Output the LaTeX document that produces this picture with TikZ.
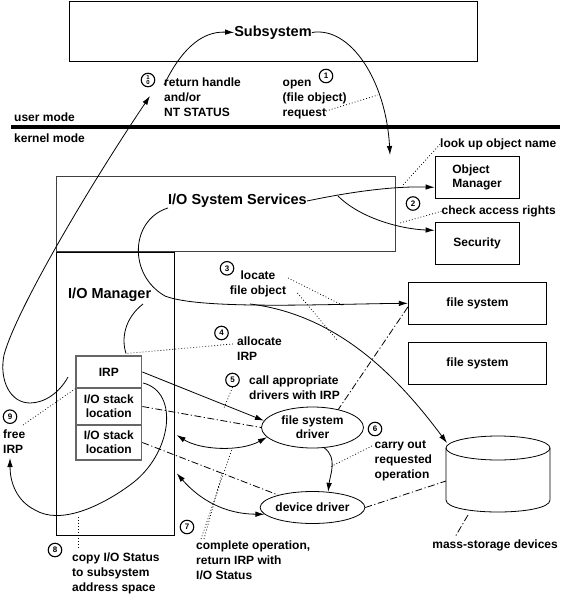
\documentclass[tikz,border=0pt]{standalone}
\usepackage{fontspec}
\setmainfont{Liberation Sans}
\usepackage{tikz}
\usetikzlibrary{arrows.meta,shapes.geometric,positioning,calc}

\begin{document}
\begin{tikzpicture}[x=1pt,y=-1pt,
	txt/.style={font=\fontsize{12}{15}\selectfont\bfseries,inner sep=0pt,align=left},
	bigtxt/.style={font=\fontsize{14.5}{17}\selectfont\bfseries,inner sep=0pt},
	numc/.style={circle,draw,line width=1.1pt,minimum size=13.5pt,inner sep=0pt,align=center,font=\fontsize{8}{8}\selectfont\bfseries},
	rbox/.style={draw,line width=0.8pt,inner sep=0pt,font=\fontsize{12}{14.5}\selectfont\bfseries},
	stackcell/.style={draw=black!60,line width=1.4pt,minimum width=65.7pt,inner sep=0pt,align=center,font=\fontsize{12}{14}\selectfont\bfseries},
	drv/.style={ellipse,draw,line width=0.8pt,inner sep=0pt,minimum width=102pt,align=center,font=\fontsize{12}{14.3}\selectfont\bfseries},
	arr/.style={-{Latex[length=9pt,width=5.5pt]},line width=0.8pt},
	biarr/.style={{Latex[length=9pt,width=5.5pt]}-{Latex[length=9pt,width=5.5pt]},line width=0.8pt},
	dotl/.style={line width=0.8pt,dash pattern=on 0.8pt off 2.2pt},
	ddline/.style={line width=0.8pt,dash pattern=on 7pt off 2.5pt on 1.2pt off 2.5pt}]
	\useasboundingbox (0,0) rectangle (562,596);

	% boxes
	\node[rbox,minimum width=408pt,minimum height=60pt,anchor=north west] (subbox) at (69,1) {};
	\node[draw=black!75,line width=1.2pt,minimum width=339pt,minimum height=75pt,inner sep=0pt,anchor=north west] (svcbox) at (56,176) {};
	\node[draw,line width=0.8pt,minimum width=118pt,minimum height=283pt,inner sep=0pt,anchor=north west] (iombox) at (56,252) {};
	\node[rbox,minimum width=84pt,minimum height=41.5pt,align=left] (objm) at (477,177.5) {Object\\Manager};
	\node[rbox,minimum width=84pt,minimum height=41.5pt] (sec) at (477,243.3) {Security};
	\node[rbox,minimum width=138.4pt,minimum height=41.5pt] (fs1) at (477.5,303.3) {file system};
	\node[rbox,minimum width=138.4pt,minimum height=41.5pt] (fs2) at (477.5,363.3) {file system};
	\node[stackcell,minimum height=32pt] (irp) at (108.8,372) {IRP};
	\node[stackcell,minimum height=37pt] (stk1) at (108.8,406.5) {I/O stack\\location};
	\node[stackcell,minimum height=35pt] (stk2) at (108.8,442.5) {I/O stack\\location};
	\node[drv,minimum height=41pt] (fsd) at (312.5,427.5) {file system\\driver};
	\node[drv,minimum height=32pt] (dd) at (312.5,507.5) {device driver};
	\coordinate (disk) at (498,474);
	\draw[line width=0.8pt] (498,448) ellipse [x radius=52pt,y radius=12pt];
	\draw[line width=0.8pt] (446,448) -- (446,500) .. controls (446,516) and (550,516) .. (550,500) -- (550,448);

	% labels
	\node[bigtxt] (subsys) at (273,32.5) {Subsystem};
	\node[bigtxt] (svc) at (237.5,201) {I/O System Services};
	\node[bigtxt,anchor=west] (iom) at (68,295) {I/O Manager};
	\node[txt,anchor=west] (umode) at (14,117) {user mode};
	\node[txt,anchor=west] (kmode) at (14,138) {kernel mode};
	\node[numc,font=\fontsize{6}{5.5}\selectfont\bfseries] (n10) at (148,80) {1\\0};
	\node[txt,anchor=north west] (ret) at (164,77.5) {return handle\\and/or\\NT STATUS};
	\node[txt,anchor=north west] (open) at (282.5,77.5) {\vphantom{l}open\\(file object)\\request};
	\node[numc] (n1) at (326,76) {1};
	\node[txt,anchor=west] (look) at (440,144.3) {look up object name};
	\node[numc] (n2) at (413,203.5) {2};
	\node[txt,anchor=west] (chk) at (441.5,211.3) {check access rights};
	\node[numc] (n3) at (227,268.3) {3};
	\node[txt,align=center] (loc) at (258,284) {locate\\file object};
	\node[numc] (n4) at (221.5,333) {4};
	\node[txt,anchor=north west] (alloc) at (237,336.5) {allocate\\IRP};
	\node[numc] (n5) at (232.5,380) {5};
	\node[txt,anchor=north west] (call) at (249,375.7) {call appropriate\\drivers with IRP};
	\node[numc] (n6) at (375,429) {6};
	\node[txt,anchor=north west] (carry) at (374.5,440.7) {carry out\\requested\\operation};
	\node[txt,anchor=east] (mass) at (558,545.3) {mass-storage devices};
	\node[numc] (n7) at (187,527) {7};
	\node[txt,anchor=north west] (compl) at (196,541) {complete operation,\\return IRP with\\I/O Status};
	\node[numc] (n8) at (55,550) {8};
	\node[txt,anchor=north west] (copy) at (72,552.5) {copy I/O Status\\to subsystem\\address space};
	\node[numc] (n9) at (10,416.7) {9};
	\node[txt,anchor=north west] (free) at (3,429.7) {free\\IRP};

	% free ends
	\coordinate (ml) at (11,127);
	\coordinate (mr) at (560,127);
	\coordinate (upstart) at (164,85);
	\coordinate (downtip) at (390,155);
	\coordinate (reqdot) at (326,111);
	\coordinate (reqarr) at (378,95);
	\coordinate (lookend) at (403,185);
	\coordinate (chkend) at (400,223);
	\coordinate (br1) at (338,196);
	\coordinate (br2) at (250,304);
	\coordinate (disktop) at (447,443);
	\coordinate (diskleft) at (446,481);
	\coordinate (diskbot) at (468,515);
	\coordinate (massend) at (455,537);
	\coordinate (locd1) at (288,278);
	\coordinate (loce1) at (344,306);
	\coordinate (locd2) at (297.5,293);
	\coordinate (loce2) at (337,340);
	\coordinate (iomc) at (143,304);
	\coordinate (irptop) at (126,353.5);
	\coordinate (allocd) at (233,344);
	\coordinate (c5end) at (224,408);
	\coordinate (carryd) at (372,446);
	\coordinate (carrye) at (330,467);
	\coordinate (iomr1) at (176.7,435);
	\coordinate (iomr2) at (176.7,473.3);
	\coordinate (c7a) at (201,539);
	\coordinate (c7ae) at (232,449);
	\coordinate (c7b) at (204,539);
	\coordinate (c7be) at (222,474);
	\coordinate (c8a) at (78,548);
	\coordinate (c8b) at (78,517);
	\coordinate (c9a) at (23,425);
	\coordinate (freestart) at (143,383);
	\coordinate (freetip) at (10,458);
	\coordinate (retstart) at (68,377);
	\coordinate (rettip) at (150,96);

	% mode line
	\draw[line width=4.7pt] (ml) -- (mr);

	% connectors
	\draw[arr] (upstart) .. controls (180,52) and (200,31) .. (subsys.west);
	\draw[arr] (subsys.east) .. controls (350,26) and (386,80) .. (downtip);
	\draw[dotl] (reqdot) -- (reqarr);
	\draw[arr] (svc.east) .. controls (345,193) and (390,186) .. (objm.193);
	\draw[arr] (br1) .. controls (360,218) and (400,229) .. (sec.163);
	\draw[dotl] (look.west) -- (lookend);
	\draw[dotl] (chk.west) -- (chkend);
	\draw[arr] (svc.south west) .. controls (130,220) and (128,275) .. (165,296) .. controls (200,310) and (330,304) .. (fs1.west);
	\draw[arr] (br2) .. controls (340,315) and (400,380) .. (disktop);
	\draw[dotl] (locd1) -- (loce1);
	\draw[dotl] (locd2) -- (loce2);
	\draw[line width=0.8pt] (iomc) .. controls (125,318) and (121,338) .. (irptop);
	\draw[dotl] (allocd) -- (irptop);
	\draw[arr] (irp.east) -- (fsd.172);
	\draw[dotl] (n5.south) -- (c5end);
	\draw[ddline] (fs1.183) -- (fsd.35);
	\draw[ddline] (stk1.east) -- (fsd.west);
	\draw[ddline] (stk2.east) -- (dd.160);
	\draw[ddline] (dd.east) -- (diskleft);
	\draw[ddline] (diskbot) -- (massend);
	\draw[arr] (fsd.-60) .. controls (338,458) and (330,475) .. (dd.45);
	\draw[dotl] (carryd) -- (carrye);
	\draw[biarr] (iomr1) .. controls (200,450) and (240,452) .. (fsd.192);
	\draw[biarr] (iomr2) .. controls (200,500) and (225,514) .. (dd.188);
	\draw[dotl] (c7a) -- (c7ae);
	\draw[dotl] (c7b) -- (c7be);
	\draw[dotl] (c8a) -- (c8b);
	\draw[dotl] (c9a) -- (irp.south west);
	\draw[arr] (freestart) .. controls (180,392) and (172,455) .. (130,485) .. controls (100,507) and (60,525) .. (35,510) .. controls (15,500) and (10,480) .. (freetip);
	\draw[arr] (retstart) .. controls (60,392) and (45,403) .. (30,403) .. controls (10,403) and (-1,380) .. (4,355) .. controls (16,310) and (90,185) .. (rettip);
\end{tikzpicture}
\end{document}
